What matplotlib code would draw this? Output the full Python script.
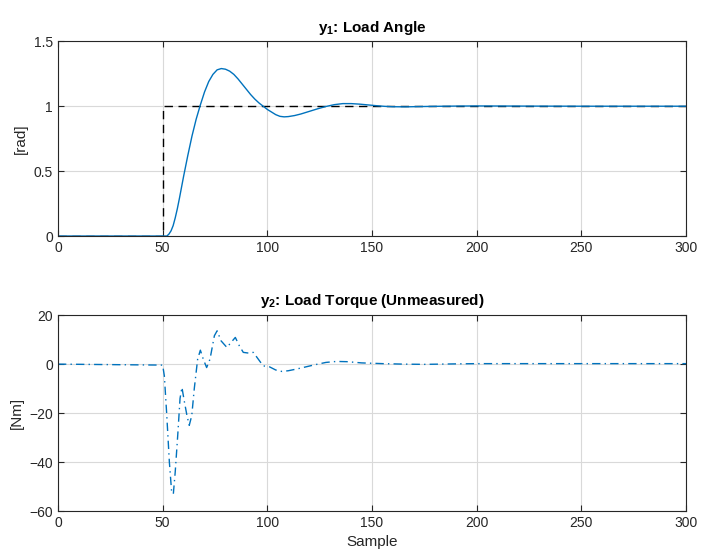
import matplotlib
matplotlib.use("Agg")
import matplotlib.pyplot as plt

plt.rcParams["font.family"] = ["Liberation Sans", "DejaVu Sans"]
plt.rcParams["mathtext.fontset"] = "custom"
plt.rcParams["mathtext.rm"] = "Liberation Sans"
plt.rcParams["mathtext.bf"] = "Liberation Sans:bold"

MBLUE = (0.0, 0.447, 0.741)
AXCOL = (0.15, 0.15, 0.15)

# y1: load angle response
x1 = [0, 50, 51, 52, 53, 54, 55, 56, 57, 58, 60, 62, 64, 66, 68, 70, 72, 74, 76,
      78, 80, 82, 84, 86, 88, 90, 92, 94, 96, 98, 100, 102, 104, 106, 108, 110,
      113, 116, 120, 124, 128, 132, 136, 140, 144, 148, 152, 156, 160, 166, 172,
      180, 190, 200, 220, 250, 300]
y1 = [0, 0, 0, 0.0, 0.015, 0.04, 0.08, 0.14, 0.21, 0.29, 0.46, 0.62, 0.77, 0.9,
      1.01, 1.11, 1.19, 1.245, 1.28, 1.29, 1.285, 1.27, 1.245, 1.21, 1.17, 1.13,
      1.09, 1.055, 1.025, 1.0, 0.975, 0.955, 0.935, 0.922, 0.918, 0.92, 0.928,
      0.94, 0.96, 0.98, 0.998, 1.012, 1.02, 1.02, 1.016, 1.01, 1.004, 0.999,
      0.996, 0.995, 0.997, 0.999, 1.001, 1.002, 1.001, 1.0, 1.0]

# reference step
ref_x = [0, 50, 50, 300]
ref_y = [0, 0, 1, 1]

# y2: load torque (unmeasured)
x2 = [0, 50, 50.8, 51.9, 53.2, 54.3, 55.1, 56, 57.2, 58.3, 59.2, 60.3, 61.6,
      62.7, 63.9, 65.1, 66.7, 68, 69.4, 71, 72.6, 74.7, 76, 77.9, 80.7, 82.6,
      84.7, 86.6, 88.5, 91.1, 93.3, 96.2, 98, 101, 104, 107, 110, 114, 118, 123,
      128, 133, 138, 145, 155, 165, 175, 190, 200, 300]
y2 = [0, -0.4, -4.8, -20, -40, -52.4, -53, -44, -29, -14, -9.5, -15, -21, -25,
      -21, -10, 2, 5.7, 2, -1.4, 2, 11.6, 13.6, 9.5, 6.8, 8.8, 10.9, 7.5, 4.8,
      4.5, 4.8, 1.4, -0.7, -1.1, -2.4, -3, -2.7, -2, -1.2, -0.2, 0.7, 1.1, 1.0,
      0.5, 0.2, 0.0, -0.1, 0.1, 0.2, 0.2]


def style(ax):
    ax.set_xlim(0, 300)
    ax.set_xticks(range(0, 301, 50))
    ax.grid(True, color=(0.85, 0.85, 0.85), lw=0.8)
    ax.set_axisbelow(True)
    ax.tick_params(direction="in", top=True, right=True, colors=AXCOL,
                   labelsize=10, length=4)
    for s in ax.spines.values():
        s.set_color(AXCOL)
        s.set_linewidth(0.8)


fig = plt.figure(figsize=(7.22, 5.58), dpi=100)
ax1 = fig.add_axes([0.0803, 0.577, 0.870, 0.349])
ax2 = fig.add_axes([0.0803, 0.0842, 0.870, 0.351])

ax1.plot(ref_x, ref_y, color="black", ls=(0, (6, 4)), lw=1.0)
ax1.plot(x1, y1, color=MBLUE, lw=1.0)
ax1.set_ylim(0, 1.5)
ax1.set_yticks([0, 0.5, 1, 1.5])
ax1.set_yticklabels(["0", "0.5", "1", "1.5"])
ax1.set_ylabel("[rad]", fontsize=11, color=AXCOL)
ax1.set_title(r"$\mathbf{y_1}$: Load Angle", fontsize=11, fontweight="bold",
              color="black", pad=7)
style(ax1)

ax2.plot(x2, y2, color=MBLUE, ls=(0, (6, 3, 1, 3)), lw=1.0)
ax2.set_ylim(-60, 20)
ax2.set_yticks(range(-60, 21, 20))
ax2.set_ylabel("[Nm]", fontsize=11, color=AXCOL)
ax2.set_xlabel("Sample", fontsize=11, color=AXCOL)
ax2.set_title(r"$\mathbf{y_2}$: Load Torque (Unmeasured)", fontsize=11,
              fontweight="bold", color="black", pad=7)
style(ax2)

fig.savefig("out.png", dpi=100)
